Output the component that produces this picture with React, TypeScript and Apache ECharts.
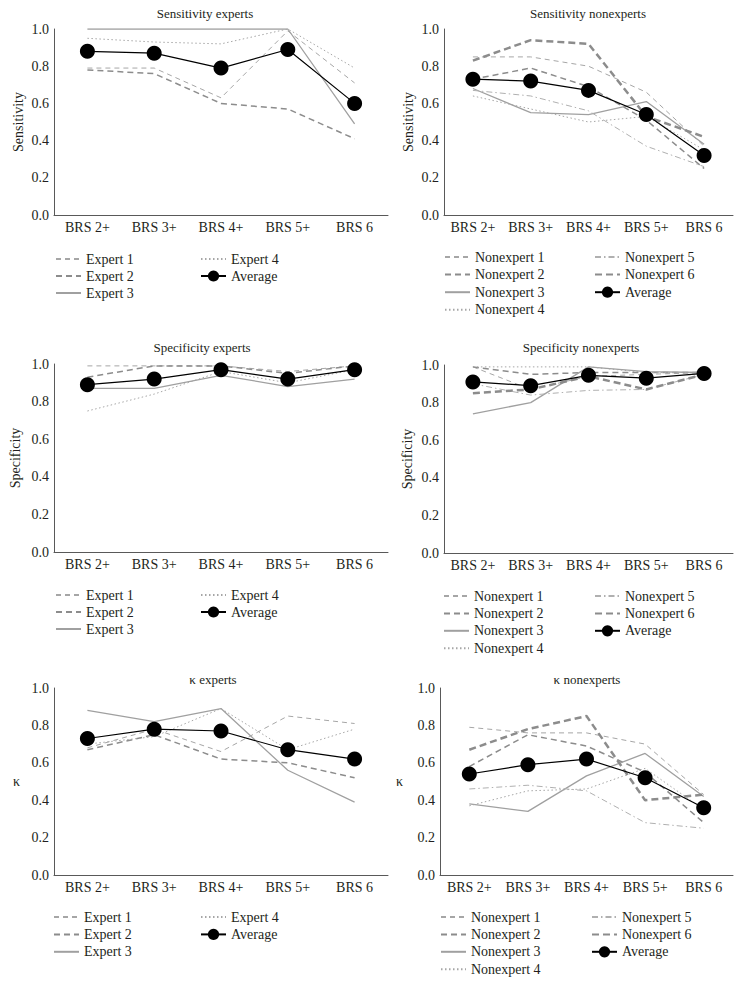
import React, { useEffect, useRef } from "react";
import * as echarts from "echarts";

const categories = ["BRS 2+", "BRS 3+", "BRS 4+", "BRS 5+", "BRS 6"];
const yTicks = [0, 0.2, 0.4, 0.6, 0.8, 1.0];

// Sensitivity experts
const sensExpert1 = [0.79, 0.79, 0.63, 0.99, 0.71];
const sensExpert2 = [0.78, 0.76, 0.60, 0.57, 0.41];
const sensExpert3 = [1.0, 1.0, 1.0, 1.0, 0.49];
const sensExpert4 = [0.95, 0.93, 0.92, 1.0, 0.79];
const sensExpertAvg = [0.88, 0.87, 0.79, 0.89, 0.60];

// Sensitivity nonexperts
const sensNon1 = [0.85, 0.85, 0.80, 0.66, 0.37];
const sensNon2 = [0.73, 0.79, 0.69, 0.51, 0.25];
const sensNon3 = [0.68, 0.55, 0.54, 0.61, 0.38];
const sensNon4 = [0.64, 0.57, 0.50, 0.53, 0.35];
const sensNon5 = [0.67, 0.64, 0.56, 0.37, 0.26];
const sensNon6 = [0.83, 0.94, 0.92, 0.53, 0.42];
const sensNonAvg = [0.73, 0.72, 0.67, 0.54, 0.32];

// Specificity experts
const specExpert1 = [0.99, 0.99, 0.99, 0.96, 0.99];
const specExpert2 = [0.93, 0.99, 0.99, 0.95, 0.99];
const specExpert3 = [0.87, 0.87, 0.94, 0.88, 0.92];
const specExpert4 = [0.75, 0.84, 0.96, 0.90, 0.97];
const specExpertAvg = [0.89, 0.92, 0.97, 0.92, 0.97];

// Specificity nonexperts
const specNon1 = [0.99, 0.87, 0.94, 0.95, 0.96];
const specNon2 = [0.99, 0.95, 0.96, 0.96, 0.96];
const specNon3 = [0.74, 0.80, 0.99, 0.965, 0.96];
const specNon4 = [0.99, 0.99, 0.99, 0.96, 0.96];
const specNon5 = [0.90, 0.84, 0.865, 0.87, 0.95];
const specNon6 = [0.85, 0.87, 0.94, 0.87, 0.95];
const specNonAvg = [0.91, 0.89, 0.945, 0.93, 0.955];

// Kappa experts
const kapExpert1 = [0.68, 0.78, 0.66, 0.85, 0.81];
const kapExpert2 = [0.67, 0.75, 0.62, 0.60, 0.52];
const kapExpert3 = [0.88, 0.82, 0.89, 0.56, 0.39];
const kapExpert4 = [0.70, 0.74, 0.89, 0.67, 0.78];
const kapExpertAvg = [0.73, 0.78, 0.77, 0.67, 0.62];

// Kappa nonexperts
const kapNon1 = [0.79, 0.76, 0.76, 0.70, 0.43];
const kapNon2 = [0.58, 0.75, 0.69, 0.55, 0.28];
const kapNon3 = [0.38, 0.34, 0.53, 0.65, 0.42];
const kapNon4 = [0.37, 0.45, 0.46, 0.57, 0.35];
const kapNon5 = [0.46, 0.48, 0.45, 0.28, 0.25];
const kapNon6 = [0.67, 0.78, 0.85, 0.40, 0.43];
const kapNonAvg = [0.54, 0.59, 0.62, 0.52, 0.36];

const expertNames = ["Expert 1", "Expert 2", "Expert 3", "Expert 4", "Average"];
const nonNames = ["Nonexpert 1", "Nonexpert 2", "Nonexpert 3", "Nonexpert 4", "Nonexpert 5", "Nonexpert 6", "Average"];

const FONT = "'Liberation Serif', 'Times New Roman', serif";
const TEXT = "#231f20";

type LS = { color: string; width: number; type: any };
const lsLightDash: LS = { color: "#a6a6a6", width: 1, type: [5, 4] };
const lsMedDash: LS = { color: "#8c8c8c", width: 1.5, type: [6, 4] };
const lsSolid: LS = { color: "#a0a0a0", width: 1.3, type: "solid" };
const lsDot: LS = { color: "#a6a6a6", width: 1, type: [1.5, 2.5] };
const lsDashDot: LS = { color: "#b0b0b0", width: 1, type: [6, 3, 1.5, 3] };
const lsThickDash: LS = { color: "#8c8c8c", width: 2.5, type: [7, 4] };
const lsAvg: LS = { color: "#000000", width: 1.2, type: "solid" };

const expertStyles = [lsLightDash, lsMedDash, lsSolid, lsDot, lsAvg];
const nonStyles = [lsLightDash, lsMedDash, lsSolid, lsDot, lsDashDot, lsThickDash, lsAvg];

const panels = [
  { title: "Sensitivity experts", yName: "Sensitivity", names: expertNames, styles: expertStyles,
    data: [sensExpert1, sensExpert2, sensExpert3, sensExpert4, sensExpertAvg],
    grid: { left: 54, top: 29, width: 334, height: 186 }, titleX: 205, titleY: 7, nameGap: 29, rot: 90, gap: 3,
    legendCols: [{ left: 55, top: 252, items: 3 }, { left: 200, top: 252, items: 2 }] },
  { title: "Sensitivity nonexperts", yName: "Sensitivity", names: nonNames, styles: nonStyles,
    data: [sensNon1, sensNon2, sensNon3, sensNon4, sensNon5, sensNon6, sensNonAvg],
    grid: { left: 444, top: 29, width: 289, height: 186 }, titleX: 588, titleY: 7, nameGap: 29, rot: 90, gap: 3.6,
    legendCols: [{ left: 444, top: 250, items: 4 }, { left: 594, top: 250, items: 3 }] },
  { title: "Specificity experts", yName: "Specificity", names: expertNames, styles: expertStyles,
    data: [specExpert1, specExpert2, specExpert3, specExpert4, specExpertAvg],
    grid: { left: 54, top: 364, width: 334, height: 188 }, titleX: 202, titleY: 341, nameGap: 32, rot: 90, gap: 3,
    legendCols: [{ left: 55, top: 588, items: 3 }, { left: 200, top: 588, items: 2 }] },
  { title: "Specificity nonexperts", yName: "Specificity", names: nonNames, styles: nonStyles,
    data: [specNon1, specNon2, specNon3, specNon4, specNon5, specNon6, specNonAvg],
    grid: { left: 444, top: 365, width: 289, height: 188 }, titleX: 581, titleY: 341, nameGap: 30, rot: 90, gap: 3.4,
    legendCols: [{ left: 443, top: 589, items: 4 }, { left: 594, top: 589, items: 3 }] },
  { title: "\u03ba experts", yName: "\u03ba", names: expertNames, styles: expertStyles,
    data: [kapExpert1, kapExpert2, kapExpert3, kapExpert4, kapExpertAvg],
    grid: { left: 54, top: 688, width: 334, height: 187 }, titleX: 213, titleY: 673, nameGap: 34, rot: 0, gap: 3.4,
    legendCols: [{ left: 53, top: 910, items: 3 }, { left: 200, top: 910, items: 2 }] },
  { title: "\u03ba nonexperts", yName: "\u03ba", names: nonNames, styles: nonStyles,
    data: [kapNon1, kapNon2, kapNon3, kapNon4, kapNon5, kapNon6, kapNonAvg],
    grid: { left: 440, top: 688, width: 293, height: 187 }, titleX: 587, titleY: 673, nameGap: 37, rot: 0, gap: 3.4,
    legendCols: [{ left: 440, top: 910, items: 4 }, { left: 591, top: 910, items: 3 }] },
];

function buildOption() {
  const grid: any[] = [];
  const xAxis: any[] = [];
  const yAxis: any[] = [];
  const series: any[] = [];
  const title: any[] = [];
  const legend: any[] = [];
  panels.forEach((p, i) => {
    grid.push({ ...p.grid, containLabel: false });
    xAxis.push({
      type: "category", gridIndex: i, data: categories, boundaryGap: true,
      axisLine: { show: true, lineStyle: { color: "#595959", width: 1 } },
      axisTick: { show: false },
      axisLabel: { color: TEXT, fontFamily: FONT, fontSize: 14, margin: 5, interval: 0 },
      splitLine: { show: false },
    });
    yAxis.push({
      type: "value", gridIndex: i, min: yTicks[0], max: yTicks[yTicks.length - 1], interval: 0.2,
      name: p.yName, nameLocation: "middle", nameGap: p.nameGap, nameRotate: p.rot,
      nameTextStyle: { color: TEXT, fontFamily: FONT, fontSize: 14 },
      axisLine: { show: true, lineStyle: { color: "#595959", width: 1 } },
      axisTick: { show: false },
      splitLine: { show: false },
      axisLabel: { color: TEXT, fontFamily: FONT, fontSize: 14, margin: 5, formatter: (v: number) => v.toFixed(1) },
    });
    title.push({
      text: p.title, left: p.titleX, top: p.titleY, textAlign: "center", padding: 0,
      textStyle: { color: TEXT, fontFamily: FONT, fontSize: 13, fontWeight: "normal" },
    });
    p.names.forEach((name, k) => {
      const st = p.styles[k];
      const isAvg = name === "Average";
      series.push({
        type: "line", name, xAxisIndex: i, yAxisIndex: i, data: p.data[k],
        symbol: isAvg ? "circle" : "none", symbolSize: isAvg ? 15 : 0, showSymbol: isAvg,
        lineStyle: { color: st.color, width: st.width, type: st.type },
        itemStyle: { color: st.color },
        z: isAvg ? 10 : 2,
        silent: true,
      });
    });
    let idx = 0;
    p.legendCols.forEach((c) => {
      const names = p.names.slice(idx, idx + c.items);
      idx += c.items;
      legend.push({
        data: names.map((n) =>
          n === "Average"
            ? { name: n }
            : { name: n, itemStyle: { opacity: 0, color: "rgba(0,0,0,0)", borderWidth: 0 } }
        ),
        orient: "vertical", left: c.left, top: c.top, padding: 0,
        itemWidth: 25, itemHeight: 14, itemGap: p.gap, itemTextGap: 6,
        selectedMode: false,
        textStyle: { color: TEXT, fontFamily: FONT, fontSize: 14 },
      });
    });
  });
  return { animation: false, backgroundColor: "#ffffff", textStyle: { fontFamily: FONT }, grid, xAxis, yAxis, series, title, legend };
}

export default function App() {
  const ref = useRef<HTMLDivElement>(null);
  useEffect(() => {
    if (!ref.current) return;
    const chart = echarts.init(ref.current, undefined, { renderer: "svg" });
    chart.setOption(buildOption() as any);
    return () => chart.dispose();
  }, []);
  return (
    <div
      ref={ref}
      style={{ position: "absolute", left: 0, top: 0, width: 742, height: 985, background: "#fff" }}
    />
  );
}
